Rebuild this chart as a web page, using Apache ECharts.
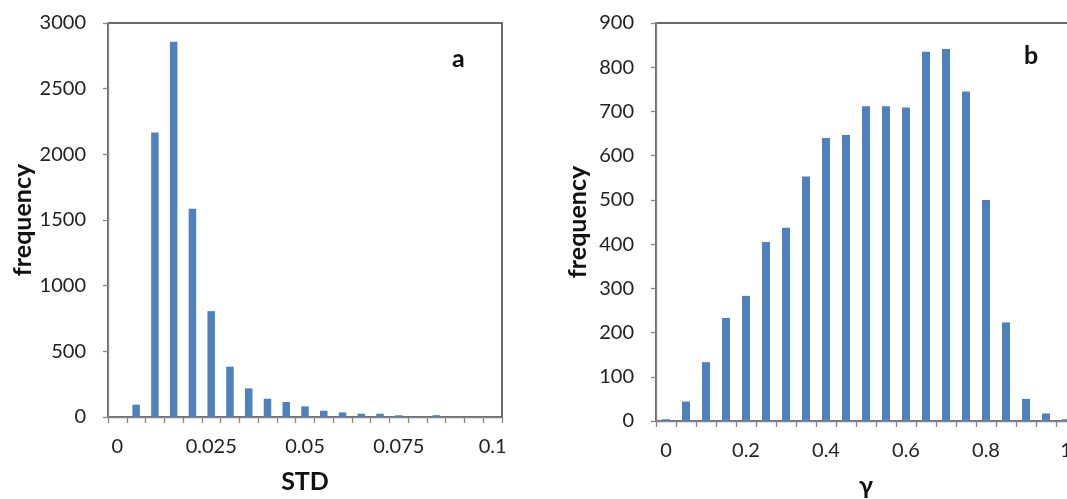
<!DOCTYPE html>
<html>
<head>
<meta charset="utf-8">
<script src="https://cdn.jsdelivr.net/npm/echarts@6/dist/echarts.min.js"></script>
<style>
html,body{margin:0;padding:0;background:#fff;}
#chart{width:1067px;height:499px;}
</style>
</head>
<body>
<div id="chart"></div>
<script>
// Panel a: STD histogram
const stdCategories = ['0','0.005','0.01','0.015','0.02','0.025','0.03','0.035','0.04','0.045','0.05','0.055','0.06','0.065','0.07','0.075','0.08','0.085','0.09','0.095','0.1'];
const stdFrequency = [0, 94, 2166, 2858, 1586, 806, 383, 218, 139, 114, 81, 48, 35, 25, 25, 13, 3, 14, 0, 0, 0];
// Panel b: gamma histogram
const gammaCategories = ['0','0.05','0.1','0.15','0.2','0.25','0.3','0.35','0.4','0.45','0.5','0.55','0.6','0.65','0.7','0.75','0.8','0.85','0.9','0.95','1'];
const gammaFrequency = [4, 44, 133, 233, 283, 405, 437, 553, 640, 647, 712, 712, 709, 835, 841, 745, 500, 223, 50, 17, 4];
const yTicksA = {min: 0, max: 3000, interval: 500};
const yTicksB = {min: 0, max: 900, interval: 100};

const FONT = 'Lato, "DejaVu Sans", sans-serif';
const BAR = '#4F81BD';
const AXIS = '#868686';
const LABEL = '#222222';

function xAxisCfg(gridIndex, cats, labelInterval, name, nameGap) {
  return {
    type: 'category', gridIndex: gridIndex, data: cats,
    boundaryGap: true,
    axisLine: {show: true, lineStyle: {color: AXIS, width: 1.3}},
    axisTick: {show: true, interval: 0, length: 6, alignWithLabel: false, lineStyle: {color: AXIS, width: 1.3}},
    axisLabel: {interval: labelInterval, margin: 20, fontFamily: FONT, fontSize: 20, color: LABEL},
    name: name, nameLocation: 'middle', nameGap: nameGap,
    nameTextStyle: {fontFamily: FONT, fontSize: 25, fontWeight: 'bold', color: '#111'},
    splitLine: {show: false}
  };
}
function yAxisCfg(gridIndex, t, nameGap) {
  return {
    type: 'value', gridIndex: gridIndex, min: t.min, max: t.max, interval: t.interval,
    axisLine: {show: true, lineStyle: {color: AXIS, width: 1.3}},
    axisTick: {show: true, length: 5, lineStyle: {color: AXIS, width: 1.3}},
    axisLabel: {margin: 22, fontFamily: FONT, fontSize: 20, color: LABEL, formatter: function (v) { return String(v); }},
    splitLine: {show: false},
    name: 'frequency', nameLocation: 'middle', nameGap: nameGap, nameRotate: 90,
    nameTextStyle: {fontFamily: FONT, fontSize: 25, fontWeight: 'bold', color: '#111'}
  };
}

const chart = echarts.init(document.getElementById('chart'), null, {renderer: 'canvas'});
chart.setOption({
  animation: false,
  backgroundColor: '#fff',
  grid: [
    {left: 108, top: 23, width: 394, height: 394, outerBoundsMode: 'none', containLabel: false, show: true, borderColor: '#3a3a3a', borderWidth: 1.5, backgroundColor: 'transparent'},
    {left: 656, top: 23, width: 420, height: 398, outerBoundsMode: 'none', containLabel: false, show: true, borderColor: '#3a3a3a', borderWidth: 1.5, backgroundColor: 'transparent'}
  ],
  xAxis: [
    xAxisCfg(0, stdCategories, 4, 'STD', 52),
    xAxisCfg(1, gammaCategories, 3, 'γ', 52)
  ],
  yAxis: [
    yAxisCfg(0, yTicksA, 68),
    yAxisCfg(1, yTicksB, 66)
  ],
  series: [
    {type: 'bar', xAxisIndex: 0, yAxisIndex: 0, data: stdFrequency, barWidth: '40%', itemStyle: {color: BAR}},
    {type: 'bar', xAxisIndex: 1, yAxisIndex: 1, data: gammaFrequency, barWidth: '40%', itemStyle: {color: BAR}}
  ],
  graphic: [
    {type: 'text', left: 452, top: 46, style: {text: 'a', fontFamily: FONT, fontSize: 25, fontWeight: 'bold', fill: '#111'}},
    {type: 'text', left: 1024, top: 43, style: {text: 'b', fontFamily: FONT, fontSize: 25, fontWeight: 'bold', fill: '#111'}}
  ]
});
</script>
</body>
</html>
